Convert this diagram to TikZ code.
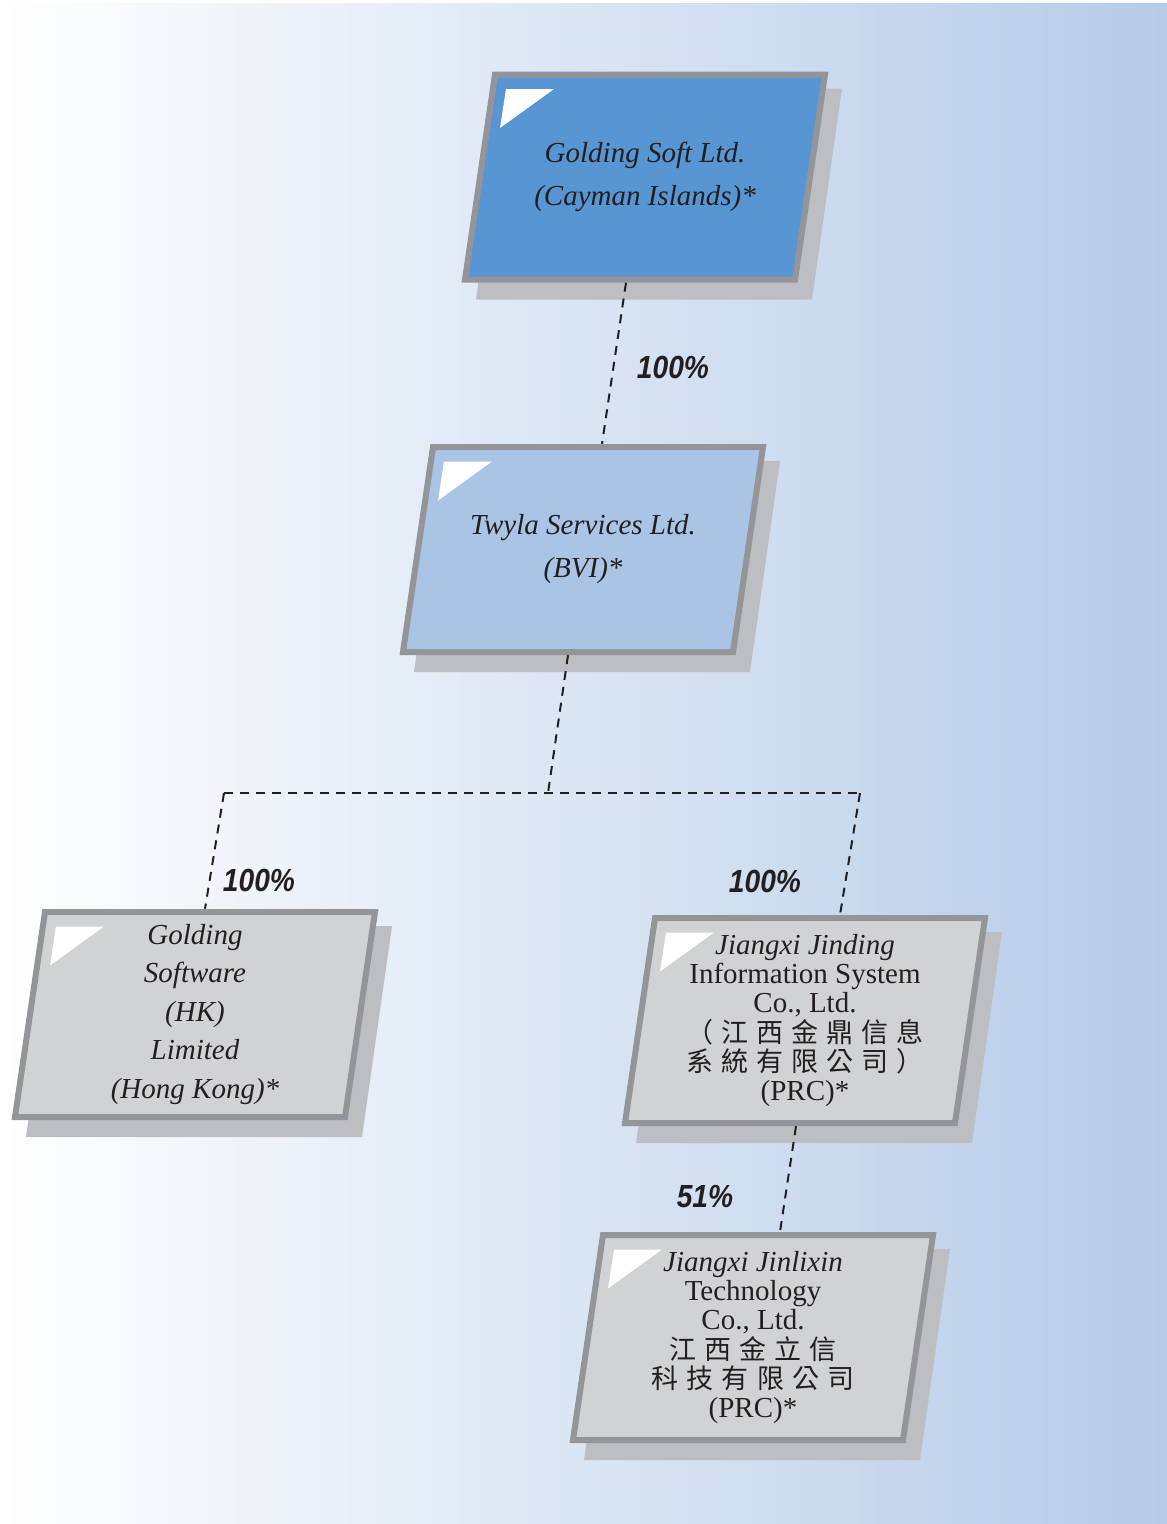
\documentclass[tikz,border=0pt]{standalone}
\usepackage{fontspec}
\setmainfont{Liberation Serif}
\newfontfamily\cjk[LetterSpace=30]{Noto Sans CJK TC}
\newfontfamily\pctfont[FakeStretch=0.88]{Liberation Sans}
\usetikzlibrary{calc}

\definecolor{bgblue}{HTML}{B5CBE8}
\definecolor{topblue}{HTML}{5796D3}
\definecolor{midblue}{HTML}{A9C4E5}
\definecolor{boxgray}{HTML}{D1D2D4}
\definecolor{rimgray}{HTML}{939598}
\definecolor{shadegray}{HTML}{BCBEC1}
\definecolor{inkblack}{HTML}{231F20}

% company box: name, centre, fill, font, text
\newcommand\corpbox[5]{%
  \begin{scope}[shift={#2}]
    \fill[shadegray] (-139,-88.5) -- (197,-88.5) -- (167,122.5) -- (-169,122.5) -- cycle;
    \filldraw[fill=#3,draw=rimgray,line width=6pt] (-150,-102.5) -- (180,-102.5) -- (150,102.5) -- (-180,102.5) -- cycle;
    \fill[white] (-139,-88) -- (-91,-88) -- (-145,-49) -- cycle;
  \end{scope}
  \node[corp,font=#4] (#1) at #2 {#5};
}

\begin{document}
\begin{tikzpicture}[x=1pt,y=-1pt,
    corp/.style={minimum width=306pt,minimum height=211pt,inner sep=0pt,align=center,text=inkblack},
    pct/.style={font=\pctfont\fontsize{32}{34}\selectfont\bfseries\itshape,text=inkblack,inner sep=0pt},
    link/.style={line width=2pt,dash pattern=on 9pt off 7pt,inkblack}]
  \useasboundingbox (0,0) rectangle (1167,1524);
  \shade[left color=white,right color=bgblue] (0,3) rectangle (1167,1524);

  \corpbox{gsoft}{(645,177)}{topblue}{\fontsize{29}{43}\selectfont\itshape}
    {Golding Soft Ltd.\\(Cayman Islands)*}
  \corpbox{twyla}{(583,549.5)}{midblue}{\fontsize{29}{43}\selectfont\itshape}
    {Twyla Services Ltd.\\(BVI)*}
  \corpbox{hk}{(195,1014.5)}{boxgray}{\fontsize{29}{38.5}\selectfont\itshape}
    {Golding\\Software\\(HK)\\Limited\\(Hong Kong)*}
  \corpbox{jd}{(805,1020.5)}{boxgray}{\fontsize{29}{29.2}\selectfont}
    {\textit{Jiangxi Jinding}\\Information System\\Co., Ltd.\\{\cjk\fontsize{27}{29.2}\selectfont （江西金鼎信息}\\{\cjk\fontsize{27}{29.2}\selectfont 系統有限公司）}\\(PRC)*}
  \corpbox{jl}{(753,1337.5)}{boxgray}{\fontsize{29}{29.2}\selectfont}
    {\textit{Jiangxi Jinlixin}\\Technology\\Co., Ltd.\\{\cjk\fontsize{27}{29.2}\selectfont 江西金立信}\\{\cjk\fontsize{27}{29.2}\selectfont 科技有限公司}\\(PRC)*}

  % dashed ownership lines
  \coordinate (split) at (548,793);
  \coordinate (busL) at (224,793);
  \coordinate (busR) at (860,793);
  \draw[link] ([xshift=-19pt]gsoft.south) -- ([xshift=19pt]twyla.north);
  \draw[link] ([xshift=-15pt]twyla.south) -- (split);
  \draw[link] (busL) -- (busR);
  \draw[link] (busL) -- ([xshift=10pt]hk.north);
  \draw[link] (busR) -- ([xshift=35pt]jd.north);
  \draw[link] ([xshift=-9pt]jd.south) -- ([xshift=27pt]jl.north);

  \node[pct] (p-twyla) at (673,367) {100\%};
  \node[pct] (p-hk) at (259,880) {100\%};
  \node[pct] (p-jd) at (765,881) {100\%};
  \node[pct] (p-jl) at (705,1197) {51\%};
\end{tikzpicture}
\end{document}
